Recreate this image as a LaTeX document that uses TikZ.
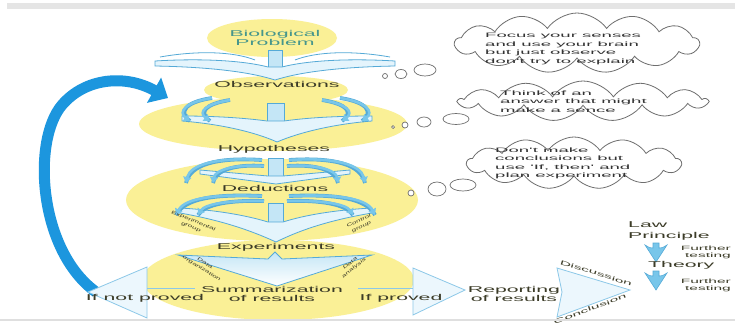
\documentclass[tikz,border=0pt]{standalone}
\usepackage{fontspec}
\setmainfont{Liberation Sans}
\newfontfamily\labfont[FakeStretch=2.5]{Liberation Sans}
\newfontfamily\sfont[FakeStretch=1.8,FakeSlant=0.15]{Liberation Sans}
\newfontfamily\cloudfont[FakeStretch=2.9]{Liberation Sans}
\usetikzlibrary{shapes.symbols,arrows.meta}
\definecolor{ylw}{RGB}{250,240,150}
\definecolor{arrline}{RGB}{85,170,215}
\definecolor{arrmid}{RGB}{120,198,234}
\definecolor{arrfill}{RGB}{228,244,252}
\definecolor{arrstem}{RGB}{196,230,246}
\definecolor{bigblue}{RGB}{28,150,222}
\definecolor{txt}{RGB}{60,60,40}
\definecolor{biotxt}{RGB}{70,150,140}
\definecolor{cloudline}{RGB}{110,110,110}
\definecolor{tri}{RGB}{140,200,232}
\definecolor{trifill}{RGB}{236,247,253}
\begin{document}
\begin{tikzpicture}[x=1pt,y=-1pt,
  lab/.style={text=txt, font=\labfont\fontsize{8.5}{9}\selectfont, inner sep=0pt, align=center},
  smalllab/.style={text=txt, font=\sfont\fontsize{4.5}{6.2}\selectfont, inner sep=0pt, align=center},
  minilab/.style={text=txt, font=\labfont\fontsize{6.2}{7}\selectfont, inner sep=0pt, align=center},
  ctext/.style={text=black!80, font=\cloudfont\fontsize{6.4}{8.5}\selectfont, inner sep=0pt, align=left},
  chev/.style={draw=arrline, line width=0.8pt, fill=arrfill},
  stembox/.style={draw=arrline, line width=0.8pt, fill=arrstem},
  carr/.style={draw=arrmid, line width=2.6pt, -{Triangle[length=6pt,width=8pt]}, preaction={draw=arrline, line width=3.8pt, arrows=-}},
  bub/.style={draw=cloudline, line width=0.7pt, fill=white},
  cloudbox/.style={cloud, draw=cloudline, line width=0.8pt, fill=white, cloud puffs=13, cloud puff arc=110, cloud ignores aspect, inner sep=0pt},
  trishape/.style={draw=tri, line width=0.8pt, fill=trifill},
  funnel/.style={draw=arrline, fill=arrmid, line width=0.6pt},
]
\useasboundingbox (0,0) rectangle (735,327);
\fill[white] (0,0) rectangle (735,327);
\fill[gray!20] (7,3) rectangle (735,8.5);

% yellow ellipses
\fill[ylw] (272,38) ellipse [x radius=65pt, y radius=19pt];
\fill[ylw] (276,90) ellipse [x radius=72pt, y radius=14pt];
\fill[ylw] (273,124) ellipse [x radius=134pt, y radius=27pt];
\fill[ylw] (272,200) ellipse [x radius=146pt, y radius=41pt];
\fill[ylw] (278,280) ellipse [x radius=136pt, y radius=40pt];

% stage 1
\filldraw[stembox] (268,50) rectangle (282,68);
\filldraw[chev] (155,61) .. controls (205,58) and (245,61) .. (268,67) -- (282,67) .. controls (305,61) and (345,58) .. (395,61) -- (395,66) .. controls (340,67) and (300,72) .. (275,80) .. controls (250,72) and (210,67) .. (155,66) -- cycle;
\draw[arrline, line width=0.8pt] (160,57) .. controls (200,50) and (235,52) .. (255,60);
\draw[arrline, line width=0.8pt] (390,57) .. controls (350,50) and (315,52) .. (295,60);

% stage 2
\filldraw[stembox] (267,103) rectangle (284,121);
\filldraw[chev] (182,116) .. controls (215,116) and (245,118) .. (267,121) -- (284,121) .. controls (305,118) and (335,116) .. (372,116) -- (372,121) .. controls (335,124) and (300,132) .. (277,142) .. controls (255,132) and (220,124) .. (182,121) -- cycle;
\draw[carr] (212,98) .. controls (185,102) and (178,112) .. (190,121);
\draw[carr] (230,100) .. controls (205,104) and (198,112) .. (210,121);
\draw[carr] (340,98) .. controls (367,102) and (374,112) .. (362,121);
\draw[carr] (322,100) .. controls (347,104) and (354,112) .. (342,121);

% stage 3
\filldraw[stembox] (268,158) rectangle (283,178);
\filldraw[chev] (200,170) -- (268,176) -- (283,176) -- (350,170) -- (350,174) -- (276,184) -- (200,174) -- cycle;
\draw[carr] (262,160) .. controls (215,157) and (190,165) .. (186,183);
\draw[carr] (264,166) .. controls (235,164) and (215,170) .. (213,183);
\draw[carr] (289,160) .. controls (336,157) and (361,165) .. (365,183);
\draw[carr] (287,166) .. controls (316,164) and (336,170) .. (338,183);

% stage 4
\filldraw[stembox] (268,203) rectangle (283,222);
\filldraw[chev] (180,208) .. controls (215,210) and (245,215) .. (268,222) -- (283,222) .. controls (305,215) and (335,210) .. (372,208) -- (372,213) .. controls (330,220) and (300,230) .. (276,242) .. controls (250,230) and (220,220) .. (180,213) -- cycle;
\draw[carr] (262,196) .. controls (215,194) and (185,198) .. (176,215);
\draw[carr] (264,201) .. controls (230,200) and (205,204) .. (198,215);
\draw[carr] (289,196) .. controls (336,194) and (366,198) .. (375,215);
\draw[carr] (287,201) .. controls (321,200) and (346,204) .. (353,215);

% stage 5
\shade[top color=arrstem, bottom color=white, draw=arrline, line width=0.8pt] (178,255) -- (268,259) -- (275,252) -- (282,259) -- (372,255) -- (277,286) -- cycle;

% big return arrow
\draw[bigblue, line width=11pt, -{Triangle[length=16pt,width=28pt]}] (96,292) .. controls (38,250) and (32,140) .. (62,105) .. controls (85,78) and (125,74) .. (168,98);

% triangles and shafts
\filldraw[trishape] (88,292) -- (147,267) -- (147,318) -- cycle;
\filldraw[trishape] (413,268) -- (465,290) -- (413,315) -- cycle;
\filldraw[trishape] (557,268) -- (630,290) -- (557,317) -- (562,292) -- cycle;
\draw[tri, line width=0.8pt] (147,288) -- (195,288);
\draw[tri, line width=0.8pt] (358,288) -- (413,288);

% right column funnels
\filldraw[funnel] (645,245) .. controls (650,248) .. (653,248) -- (653,243) -- (659,243) -- (659,248) .. controls (662,248) .. (667,245) -- (656,262) -- cycle;
\filldraw[funnel] (645,273) .. controls (650,276) .. (653,276) -- (653,271) -- (659,271) -- (659,276) .. controls (662,276) .. (667,273) -- (656,290) -- cycle;

% labels
\node[lab, text=biotxt] (bio) at (275,38) {Biological\\Problem};
\node[lab] (obs) at (277,84) {Observations};
\node[lab] (hyp) at (274,149) {Hypotheses};
\node[lab] (ded) at (275,188) {Deductions};
\node[lab] (exp) at (276,247) {Experiments};
\node[lab] (sum) at (272,294) {Summarization\\of results};
\node[lab] (nprov) at (145,298) {If not proved};
\node[lab] (prov) at (401,298) {If proved};
\node[lab] (rep) at (514,294) {Reporting\\of results};
\node[lab, anchor=west] (law) at (628,225) {Law};
\node[lab, anchor=west] (prin) at (628,236) {Principle};
\node[lab, anchor=west] (theo) at (648,265) {Theory};
\node[minilab, anchor=east, align=right] (ft1) at (731,252) {Further\\testing};
\node[minilab, anchor=east, align=right] (ft2) at (731,285) {Further\\testing};
\node[smalllab, rotate=-22] (eg) at (192,224) {Experimental\\group};
\node[smalllab, rotate=25] (cg) at (360,224) {Control\\group};
\node[smalllab, rotate=-32] (dorg) at (203,266) {Data\\organization};
\node[smalllab, rotate=38] (dan) at (352,266) {Data\\analysis};
\node[minilab, rotate=-17] (disc) at (596,273) {Discussion};
\node[minilab, rotate=20] (conc) at (590,309) {Conclusion};

% clouds
\node[cloudbox, minimum width=244pt, minimum height=60pt] (c1) at (577,43) {};
\node[ctext, anchor=west] (c1t) at (485,49) {Focus your senses\\and use your brain\\but just observe\\don't try to explain};
\node[cloudbox, minimum width=248pt, minimum height=40pt] (c2) at (583,101) {};
\node[ctext, anchor=west] (c2t) at (500,101.5) {Think of an\\answer that might\\make a sence};
\node[cloudbox, minimum width=214pt, minimum height=52pt] (c3) at (574,163) {};
\node[ctext, anchor=west] (c3t) at (495,163.5) {Don't make\\conclusions but\\use 'If, then' and\\plan experiment};

% bubbles
\filldraw[bub] (385,76) circle [radius=2.5pt];
\filldraw[bub] (401,74) ellipse [x radius=6pt, y radius=4.5pt];
\filldraw[bub] (425,70) ellipse [x radius=11pt, y radius=6pt];
\filldraw[bub] (393,127) circle [radius=1.5pt];
\filldraw[bub] (405,125) circle [radius=3pt];
\filldraw[bub] (424,122) ellipse [x radius=7pt, y radius=5pt];
\filldraw[bub] (456,119) ellipse [x radius=13pt, y radius=5.5pt];
\filldraw[bub] (411,193) circle [radius=3pt];
\filldraw[bub] (437,189) ellipse [x radius=9pt, y radius=7pt];
\filldraw[bub] (463,185) ellipse [x radius=13pt, y radius=6pt];

\fill[gray!25] (0,318.5) rectangle (735,321);
\end{tikzpicture}
\end{document}
